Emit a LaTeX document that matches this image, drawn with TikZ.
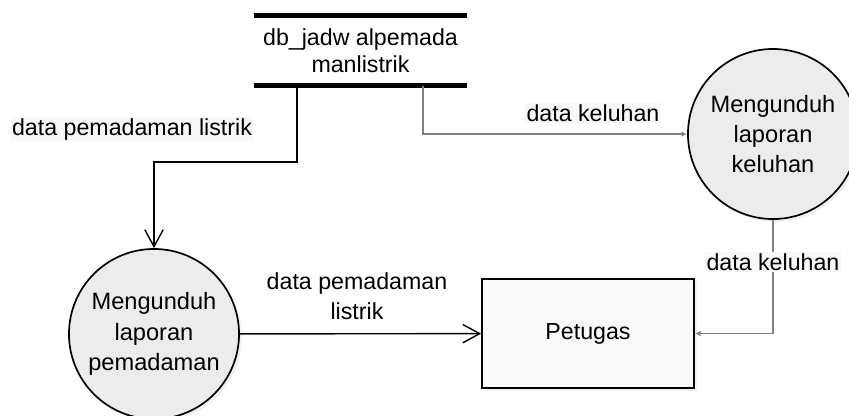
\documentclass[tikz,border=0pt]{standalone}
\usepackage{fontspec}
\setmainfont{Liberation Sans}
\usepackage{tikz}
\usetikzlibrary{arrows.meta, positioning, shadows}
\definecolor{procfill}{RGB}{236, 236, 236}
\definecolor{entfill}{RGB}{249, 249, 249}
\definecolor{lblfill}{RGB}{248, 248, 248}
\definecolor{flowgray}{RGB}{128, 128, 128}

\begin{document}
\begin{tikzpicture}[
    x=0.025cm, y=-0.025cm,
    font=\fontsize{16.5}{21}\selectfont,
    process/.style={circle, draw, line width=1.2pt, fill=procfill, minimum size=4.25cm, inner sep=0pt, align=center, font=\fontsize{16.8}{21.5}\selectfont, drop shadow={opacity=0.12, shadow xshift=2pt, shadow yshift=-2pt}},
    entity/.style={rectangle, draw, line width=1.2pt, fill=entfill, minimum width=5.3cm, minimum height=2.725cm, align=center, drop shadow={opacity=0.12, shadow xshift=2pt, shadow yshift=-2pt}},
    store/.style={rectangle, minimum width=5.325cm, minimum height=1.75cm, align=center, font=\fontsize{16.5}{19.5}\selectfont},
    storebar/.style={line width=3.6pt},
    label/.style={align=center, inner sep=1pt},
    flow/.style={-{Straight Barb[length=12pt, width=13pt]}, line width=1pt},
    gflow/.style={-{Latex[length=4pt, width=4pt]}, line width=1pt, draw=flowgray}
]
    \useasboundingbox (0,0) rectangle (849,415);

    % Data store
    \node[store] (jadwal) at (360.5,50.5) {db\_jadw alpemada\\manlistrik};
    \draw[storebar] (jadwal.north west) -- (jadwal.north east);
    \draw[storebar] (jadwal.south west) -- (jadwal.south east);
    \coordinate (outpadam) at (297,86);
    \coordinate (outkeluh) at (423,86);

    % Processes
    \node[process] (unduhpadam) at (154,334) {Mengunduh\\laporan\\pemadaman};
    \node[process] (unduhkeluh) at (773,134) {Mengunduh\\laporan\\keluhan};

    % Entity
    \node[entity] (petugas) at (588,333.5) {Petugas};

    % Flows
    \draw[flow] (outpadam) -- (297,162) -| (unduhpadam);
    \draw[gflow] (outkeluh) |- (unduhkeluh);
    \draw[flow] (unduhpadam) -- (petugas);
    \draw[gflow] (unduhkeluh) |- (petugas);

    % Flow labels
    \node[label, fill=lblfill] at (132,129) {data pemadaman listrik};
    \node[label, fill=lblfill] at (593,113) {data keluhan};
    \node[label] at (357,296) {data pemadaman\\listrik};
    \node[label, fill=lblfill] at (773,262) {data keluhan};

\end{tikzpicture}
\end{document}
